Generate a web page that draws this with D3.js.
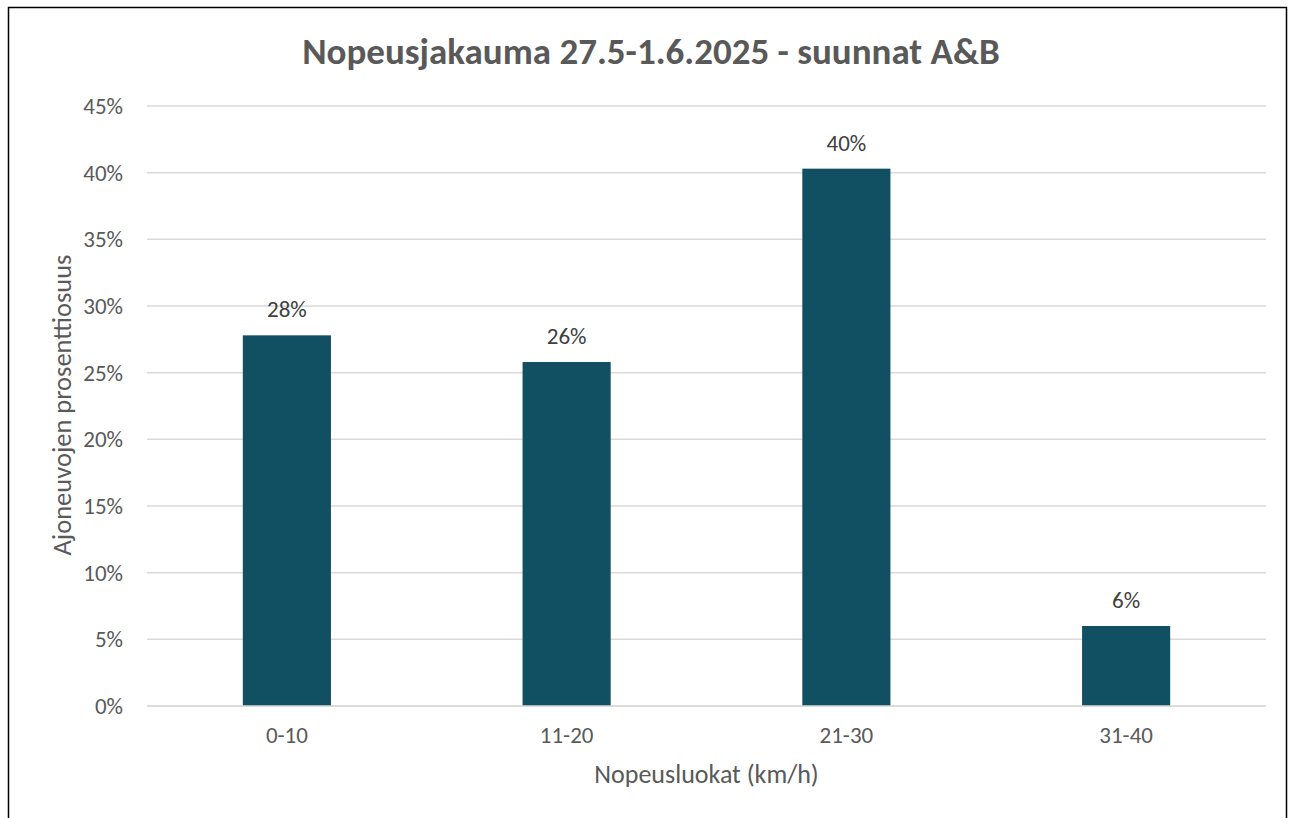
<!DOCTYPE html>
<html><head><meta charset="utf-8">
<script src="https://cdn.jsdelivr.net/npm/d3@7"></script>
<style>
html,body{margin:0;padding:0;background:#fff;}
svg{display:block;font-family:Carlito,Calibri,"Open Sans",sans-serif;}
</style></head>
<body><svg id="c" width="1293" height="818"></svg>
<script>
const categories = ["0-10","11-20","21-30","31-40"];
const values = [0.278, 0.258, 0.403, 0.060];
const labels = ["28%","26%","40%","6%"];
const yTicks = [0,0.05,0.10,0.15,0.20,0.25,0.30,0.35,0.40,0.45];
const title = "Nopeusjakauma 27.5-1.6.2025 - suunnat A&B";
const xTitle = "Nopeusluokat (km/h)";
const yTitle = "Ajoneuvojen prosenttiosuus";

const svg = d3.select("#c");
const m = {left:147, right:1266, top:106, bottom:706};
const textCol = "#595959";

// frame
svg.append("rect").attr("x",8.5).attr("y",7.5).attr("width",1278).attr("height",830)
  .attr("fill","#fff").attr("stroke","#000").attr("stroke-width",1.5);

const x = d3.scaleBand().domain(categories).range([m.left,m.right]).paddingInner(0.685).paddingOuter(0.3425);
const y = d3.scaleLinear().domain([0,0.45]).range([m.bottom,m.top]);

// gridlines
svg.append("g").selectAll("line").data(yTicks).join("line")
  .attr("x1",m.left).attr("x2",m.right)
  .attr("y1",d=>y(d)).attr("y2",d=>y(d))
  .attr("stroke","#d9d9d9").attr("stroke-width",1.5);

// y tick labels
const yAxis = d3.axisLeft(y).tickValues(yTicks).tickFormat(d3.format(".0%")).tickSize(0).tickPadding(24);
const ga = svg.append("g").attr("transform",`translate(${m.left},0)`).call(yAxis);
ga.attr("font-family",null).attr("font-size",null);
ga.select(".domain").remove();
ga.selectAll("text").attr("fill",textCol).style("font-size","23px").attr("dy","0.33em");

// bars
svg.append("g").selectAll("rect").data(values).join("rect")
  .attr("x",(d,i)=>x(categories[i])).attr("width",x.bandwidth())
  .attr("y",d=>y(d)).attr("height",d=>y(0)-y(d))
  .attr("fill","#114F62");

// baseline
svg.append("line").attr("x1",m.left).attr("x2",m.right).attr("y1",y(0)).attr("y2",y(0))
  .attr("stroke","#d9d9d9").attr("stroke-width",1.5);

// data labels
svg.append("g").selectAll("text").data(values).join("text")
  .attr("x",(d,i)=>x(categories[i])+x.bandwidth()/2).attr("y",d=>y(d)-18)
  .attr("text-anchor","middle").attr("fill","#404040").style("font-size","23px")
  .text((d,i)=>labels[i]);

// x axis labels
const xAxis = d3.axisBottom(x).tickSize(0).tickPadding(21);
const gx = svg.append("g").attr("transform",`translate(0,${m.bottom})`).call(xAxis);
gx.attr("font-family",null).attr("font-size",null);
gx.select(".domain").remove();
gx.selectAll("text").attr("fill",textCol).style("font-size","23px")
  .attr("dy",null).attr("y",37);

// titles
svg.append("text").attr("x",651).attr("y",64).attr("text-anchor","middle")
  .attr("fill",textCol).style("font-size","37px").style("font-weight","bold").text(title);
svg.append("text").attr("x",(m.left+m.right)/2).attr("y",783).attr("text-anchor","middle")
  .attr("fill",textCol).style("font-size","26px").text(xTitle);
svg.append("text").attr("transform",`translate(71,405) rotate(-90)`).attr("text-anchor","middle")
  .attr("fill",textCol).style("font-size","26.5px").text(yTitle);
</script></body></html>
